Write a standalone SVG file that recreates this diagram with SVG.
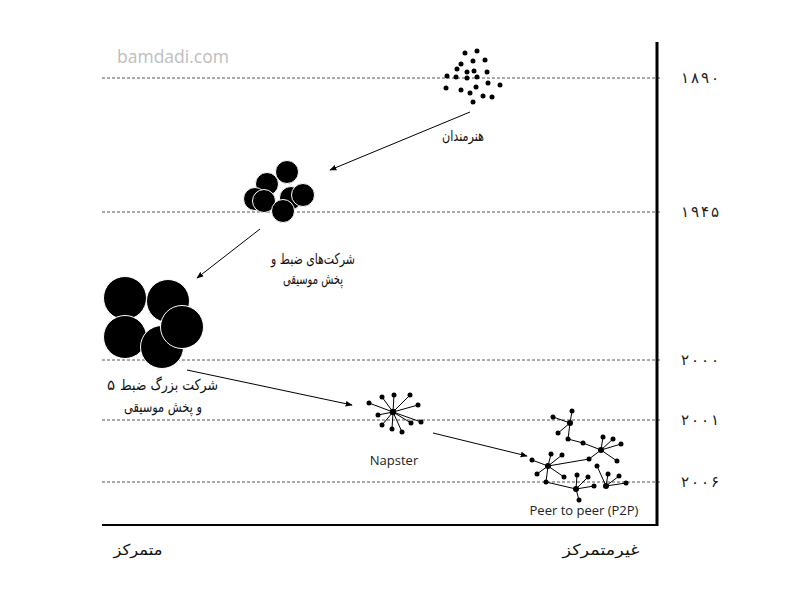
<svg xmlns="http://www.w3.org/2000/svg" width="809" height="606" viewBox="0 0 809 606">
<defs>
<marker id="ah" viewBox="0 0 10 10" refX="9" refY="5" markerWidth="7" markerHeight="7" markerUnits="userSpaceOnUse" orient="auto">
<path d="M0,1 L10,5 L0,9 z" fill="#000"/>
</marker>
<style>
.dash{stroke:#555;stroke-width:1;stroke-dasharray:3 2;fill:none}
.fa{font-family:"DejaVu Sans",sans-serif;font-size:15px;fill:#111;text-anchor:middle}
.yr{font-family:"DejaVu Sans",sans-serif;font-size:15px;fill:#222}
.en{font-family:"Open Sans","Liberation Sans",sans-serif;font-size:13px;fill:#222;text-anchor:middle}
.arr{stroke:#000;stroke-width:1;fill:none;marker-end:url(#ah)}
.bc{fill:#000;stroke:#fff;stroke-width:1}
.d{fill:#000}
.e{stroke:#000;stroke-width:1;fill:none}
</style>
</defs>
<rect width="809" height="606" fill="#fff"/>
<text x="117" y="63" font-family="Open Sans, Liberation Sans, sans-serif" font-size="17.5" fill="#bdbdbd">bamdadi.com</text>

<g id="gridlines">
<line class="dash" x1="102" y1="78" x2="662" y2="78"/>
<line class="dash" x1="102" y1="212" x2="662" y2="212"/>
<line class="dash" x1="102" y1="360" x2="662" y2="360"/>
<line class="dash" x1="102" y1="420" x2="662" y2="420"/>
<line class="dash" x1="102" y1="482" x2="662" y2="482"/>
</g>

<g id="axes">
<line x1="657" y1="42" x2="657" y2="526" stroke="#000" stroke-width="3"/>
<line x1="102" y1="525" x2="658" y2="525" stroke="#000" stroke-width="2"/>
<text class="yr" x="681" y="83" textLength="38" lengthAdjust="spacing">۱۸۹۰</text>
<text class="yr" x="681" y="217" textLength="38" lengthAdjust="spacing">۱۹۴۵</text>
<text class="yr" x="681" y="365" textLength="38" lengthAdjust="spacing">۲۰۰۰</text>
<text class="yr" x="681" y="425" textLength="38" lengthAdjust="spacing">۲۰۰۱</text>
<text class="yr" x="681" y="487" textLength="38" lengthAdjust="spacing">۲۰۰۶</text>
<text class="fa" x="138" y="555" textLength="49" lengthAdjust="spacingAndGlyphs">متمرکز</text>
<text class="fa" x="601" y="555" textLength="77" lengthAdjust="spacingAndGlyphs">غیرمتمرکز</text>
</g>

<g id="artists">
<circle class="d" cx="465" cy="53" r="2.5"/><circle class="d" cx="477" cy="51" r="2.5"/>
<circle class="d" cx="473" cy="61" r="2.5"/><circle class="d" cx="485" cy="60" r="2.5"/>
<circle class="d" cx="461" cy="64" r="2.5"/><circle class="d" cx="457" cy="69" r="2.5"/>
<circle class="d" cx="467" cy="72" r="2.5"/><circle class="d" cx="474" cy="71" r="2.5"/>
<circle class="d" cx="487" cy="72" r="2.5"/><circle class="d" cx="447" cy="76" r="2.5"/>
<circle class="d" cx="456" cy="77" r="2.5"/><circle class="d" cx="467" cy="78" r="2.5"/>
<circle class="d" cx="477" cy="77" r="2.5"/><circle class="d" cx="488" cy="83" r="2.5"/>
<circle class="d" cx="500" cy="85" r="2.5"/><circle class="d" cx="446" cy="88" r="2.5"/>
<circle class="d" cx="461" cy="90" r="2.5"/><circle class="d" cx="470" cy="93" r="2.5"/>
<circle class="d" cx="476" cy="87" r="2.5"/><circle class="d" cx="483" cy="96" r="2.5"/>
<circle class="d" cx="492" cy="97" r="2.5"/><circle class="d" cx="473" cy="102" r="2.5"/>
<text class="fa" x="463" y="141" font-size="14" textLength="42" lengthAdjust="spacingAndGlyphs">هنرمندان</text>
</g>

<g id="labels1945">
<circle class="bc" cx="287" cy="172" r="11.5"/>
<circle class="bc" cx="267" cy="184" r="11.5"/>
<circle class="bc" cx="255" cy="199" r="11.5"/>
<circle class="bc" cx="264" cy="201" r="11.5"/>
<circle class="bc" cx="291" cy="198" r="11.5"/>
<circle class="bc" cx="303" cy="195" r="11.5"/>
<circle class="bc" cx="283" cy="211" r="11.5"/>
<text class="fa" x="313" y="264" textLength="84" lengthAdjust="spacingAndGlyphs">شرکت‌های ضبط و</text>
<text class="fa" x="313" y="284" textLength="60" lengthAdjust="spacingAndGlyphs">پخش موسیقی</text>
</g>

<g id="majors">
<circle class="bc" cx="125" cy="298" r="21.5"/>
<circle class="bc" cx="168" cy="301" r="21.5"/>
<circle class="bc" cx="125" cy="337" r="21.5"/>
<circle class="bc" cx="162" cy="347" r="21.5"/>
<circle class="bc" cx="182" cy="327" r="21.5"/>
<text class="fa" x="107" y="390" style="text-anchor:start">۵</text>
<text class="fa" x="169" y="390" textLength="98" lengthAdjust="spacingAndGlyphs">شرکت بزرگ ضبط</text>
<text class="fa" x="163" y="412" textLength="78" lengthAdjust="spacingAndGlyphs">و پخش موسیقی</text>
</g>

<g id="napster">
<g class="e">
<line x1="393" y1="412" x2="369" y2="403"/><line x1="393" y1="412" x2="382" y2="397"/>
<line x1="393" y1="412" x2="394" y2="395"/><line x1="393" y1="412" x2="410" y2="395"/>
<line x1="393" y1="412" x2="418" y2="405"/><line x1="393" y1="412" x2="378" y2="415"/>
<line x1="393" y1="412" x2="382" y2="425"/><line x1="393" y1="412" x2="392" y2="429"/>
<line x1="393" y1="412" x2="402" y2="432"/><line x1="393" y1="412" x2="411" y2="423"/>
<line x1="393" y1="412" x2="421" y2="422"/>
</g>
<circle class="d" cx="393" cy="412" r="3.2"/>
<circle class="d" cx="369" cy="403" r="2.5"/><circle class="d" cx="382" cy="397" r="2.5"/>
<circle class="d" cx="394" cy="395" r="2.5"/><circle class="d" cx="410" cy="395" r="2.5"/>
<circle class="d" cx="418" cy="405" r="2.5"/><circle class="d" cx="378" cy="415" r="2.5"/>
<circle class="d" cx="382" cy="425" r="2.5"/><circle class="d" cx="392" cy="429" r="2.5"/>
<circle class="d" cx="402" cy="432" r="2.5"/><circle class="d" cx="411" cy="423" r="2.5"/>
<circle class="d" cx="421" cy="422" r="2.5"/>
<text class="en" x="394" y="465" font-size="14">Napster</text>
</g>

<g id="p2p">
<g class="e">
<line x1="570" y1="423" x2="572" y2="411"/><line x1="570" y1="423" x2="553" y2="417"/>
<line x1="570" y1="423" x2="558" y2="433"/><line x1="570" y1="423" x2="568" y2="439"/>
<line x1="568" y1="439" x2="583" y2="443"/><line x1="583" y1="443" x2="601" y2="450"/>
<line x1="601" y1="450" x2="603" y2="437"/><line x1="601" y1="450" x2="613" y2="439"/>
<line x1="601" y1="450" x2="621" y2="444"/><line x1="601" y1="450" x2="617" y2="461"/>
<line x1="601" y1="450" x2="589" y2="459"/>
<line x1="548" y1="466" x2="589" y2="459"/>
<line x1="548" y1="466" x2="551" y2="454"/><line x1="548" y1="466" x2="562" y2="455"/>
<line x1="548" y1="466" x2="532" y2="460"/><line x1="548" y1="466" x2="537" y2="474"/>
<line x1="548" y1="466" x2="546" y2="482"/><line x1="548" y1="466" x2="564" y2="477"/>
<line x1="546" y1="482" x2="576" y2="489"/>
<line x1="576" y1="489" x2="577" y2="475"/><line x1="576" y1="489" x2="588" y2="477"/>
<line x1="576" y1="489" x2="594" y2="486"/><line x1="576" y1="489" x2="579" y2="500"/>
<line x1="597" y1="466" x2="606" y2="486"/>
<line x1="606" y1="486" x2="608" y2="474"/><line x1="606" y1="486" x2="619" y2="476"/>
<line x1="606" y1="486" x2="626" y2="483"/>
</g>
<circle class="d" cx="570" cy="423" r="3"/><circle class="d" cx="601" cy="450" r="3"/>
<circle class="d" cx="548" cy="466" r="3"/><circle class="d" cx="576" cy="489" r="3"/>
<circle class="d" cx="606" cy="486" r="3"/>
<circle class="d" cx="572" cy="411" r="2.5"/><circle class="d" cx="553" cy="417" r="2.5"/>
<circle class="d" cx="558" cy="433" r="2.5"/><circle class="d" cx="568" cy="439" r="2.5"/>
<circle class="d" cx="583" cy="443" r="2.5"/><circle class="d" cx="603" cy="437" r="2.5"/>
<circle class="d" cx="613" cy="439" r="2.5"/><circle class="d" cx="621" cy="444" r="2.5"/>
<circle class="d" cx="617" cy="461" r="2.5"/><circle class="d" cx="589" cy="459" r="2.5"/>
<circle class="d" cx="551" cy="454" r="2.5"/><circle class="d" cx="562" cy="455" r="2.5"/>
<circle class="d" cx="532" cy="460" r="2.5"/><circle class="d" cx="537" cy="474" r="2.5"/>
<circle class="d" cx="546" cy="482" r="2.5"/><circle class="d" cx="564" cy="477" r="2.5"/>
<circle class="d" cx="577" cy="475" r="2.5"/><circle class="d" cx="588" cy="477" r="2.5"/>
<circle class="d" cx="594" cy="486" r="2.5"/><circle class="d" cx="579" cy="500" r="2.5"/>
<circle class="d" cx="597" cy="466" r="2.5"/><circle class="d" cx="608" cy="474" r="2.5"/>
<circle class="d" cx="619" cy="476" r="2.5"/><circle class="d" cx="626" cy="483" r="2.5"/>
<text class="en" x="584" y="515" font-size="13.8">Peer to peer (P2P)</text>
</g>

<g id="connectors">
<line class="arr" x1="470" y1="112" x2="330" y2="170"/>
<line class="arr" x1="260" y1="229" x2="197" y2="278"/>
<line class="arr" x1="187" y1="370" x2="352" y2="405"/>
<line class="arr" x1="433" y1="433" x2="527" y2="456"/>
</g>
</svg>
